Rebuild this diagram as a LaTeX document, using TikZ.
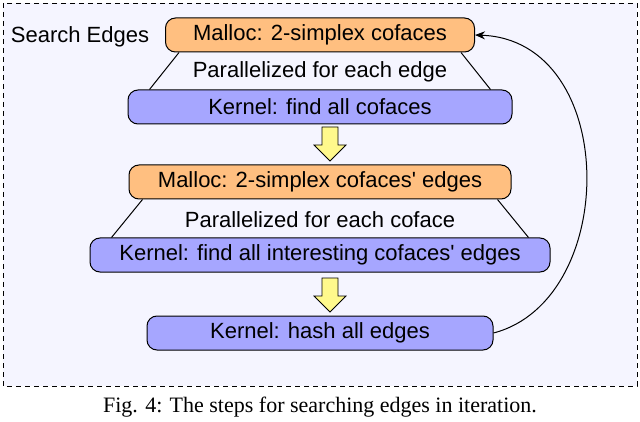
\documentclass[tikz,border=0pt]{standalone}
\usepackage{fontspec}
\setmainfont{Liberation Serif}
\newfontfamily\mysans{Liberation Sans}
\usetikzlibrary{arrows.meta}
\begin{document}
\begin{tikzpicture}[x=1pt,y=-1pt,line width=1pt,
  box/.style={draw,rounded corners=10pt,minimum height=34pt,font=\mysans\fontsize{22}{26}\selectfont,inner sep=0pt},
  malloc/.style={box,fill=orange!50},
  kern/.style={box,fill=blue!35!white},
  lbl/.style={font=\mysans\fontsize{22}{26}\selectfont},
  yarrow/.style={draw,fill=yellow!45,line width=0.8pt}]
\useasboundingbox (0,0) rectangle (640,422);
\draw[dashed,dash pattern=on 5pt off 4pt,fill=blue!4,line width=0.7pt] (3,3) rectangle (637,386);
\node[lbl] (se) at (80,37) {Search Edges};
\node[malloc,minimum width=309pt] (m1) at (320,35) {Malloc: 2-simplex cofaces};
\node[lbl] (p1) at (320,72) {Parallelized for each edge};
\node[kern,minimum width=384pt] (k1) at (320,107) {Kernel: find all cofaces};
\draw ([xshift=14pt]m1.south west) -- ([xshift=22pt]k1.north west);
\draw ([xshift=-14pt]m1.south east) -- ([xshift=-22pt]k1.north east);
\coordinate (a1) at (330,127);
\draw[yarrow] ([xshift=-8pt]a1) -- ++(0,18) -- ++(-8,0) -- ++(16,16) -- ++(16,-16) -- ++(-8,0) -- ++(0,-18) -- cycle;
\node[malloc,minimum width=382pt] (m2) at (320,182) {Malloc: 2-simplex cofaces' edges};
\node[lbl] (p2) at (320,220) {Parallelized for each coface};
\node[kern,minimum width=460pt] (k2) at (320,255) {Kernel: find all interesting cofaces' edges};
\draw ([xshift=14pt]m2.south west) -- ([xshift=22pt]k2.north west);
\draw ([xshift=-14pt]m2.south east) -- ([xshift=-22pt]k2.north east);
\coordinate (a2) at (330,278);
\draw[yarrow] ([xshift=-8pt]a2) -- ++(0,18) -- ++(-8,0) -- ++(16,16) -- ++(16,-16) -- ++(-8,0) -- ++(0,-18) -- cycle;
\node[kern,minimum width=346pt] (k3) at (320,333) {Kernel: hash all edges};
\draw[-{Stealth[length=10pt,width=8pt]}] (k3.east) .. controls (620,300) and (620,40) .. (m1.east);
\node[font=\fontsize{22}{26}\selectfont] (cap) at (320,407) {Fig. 4: The steps for searching edges in iteration.};
\end{tikzpicture}
\end{document}
